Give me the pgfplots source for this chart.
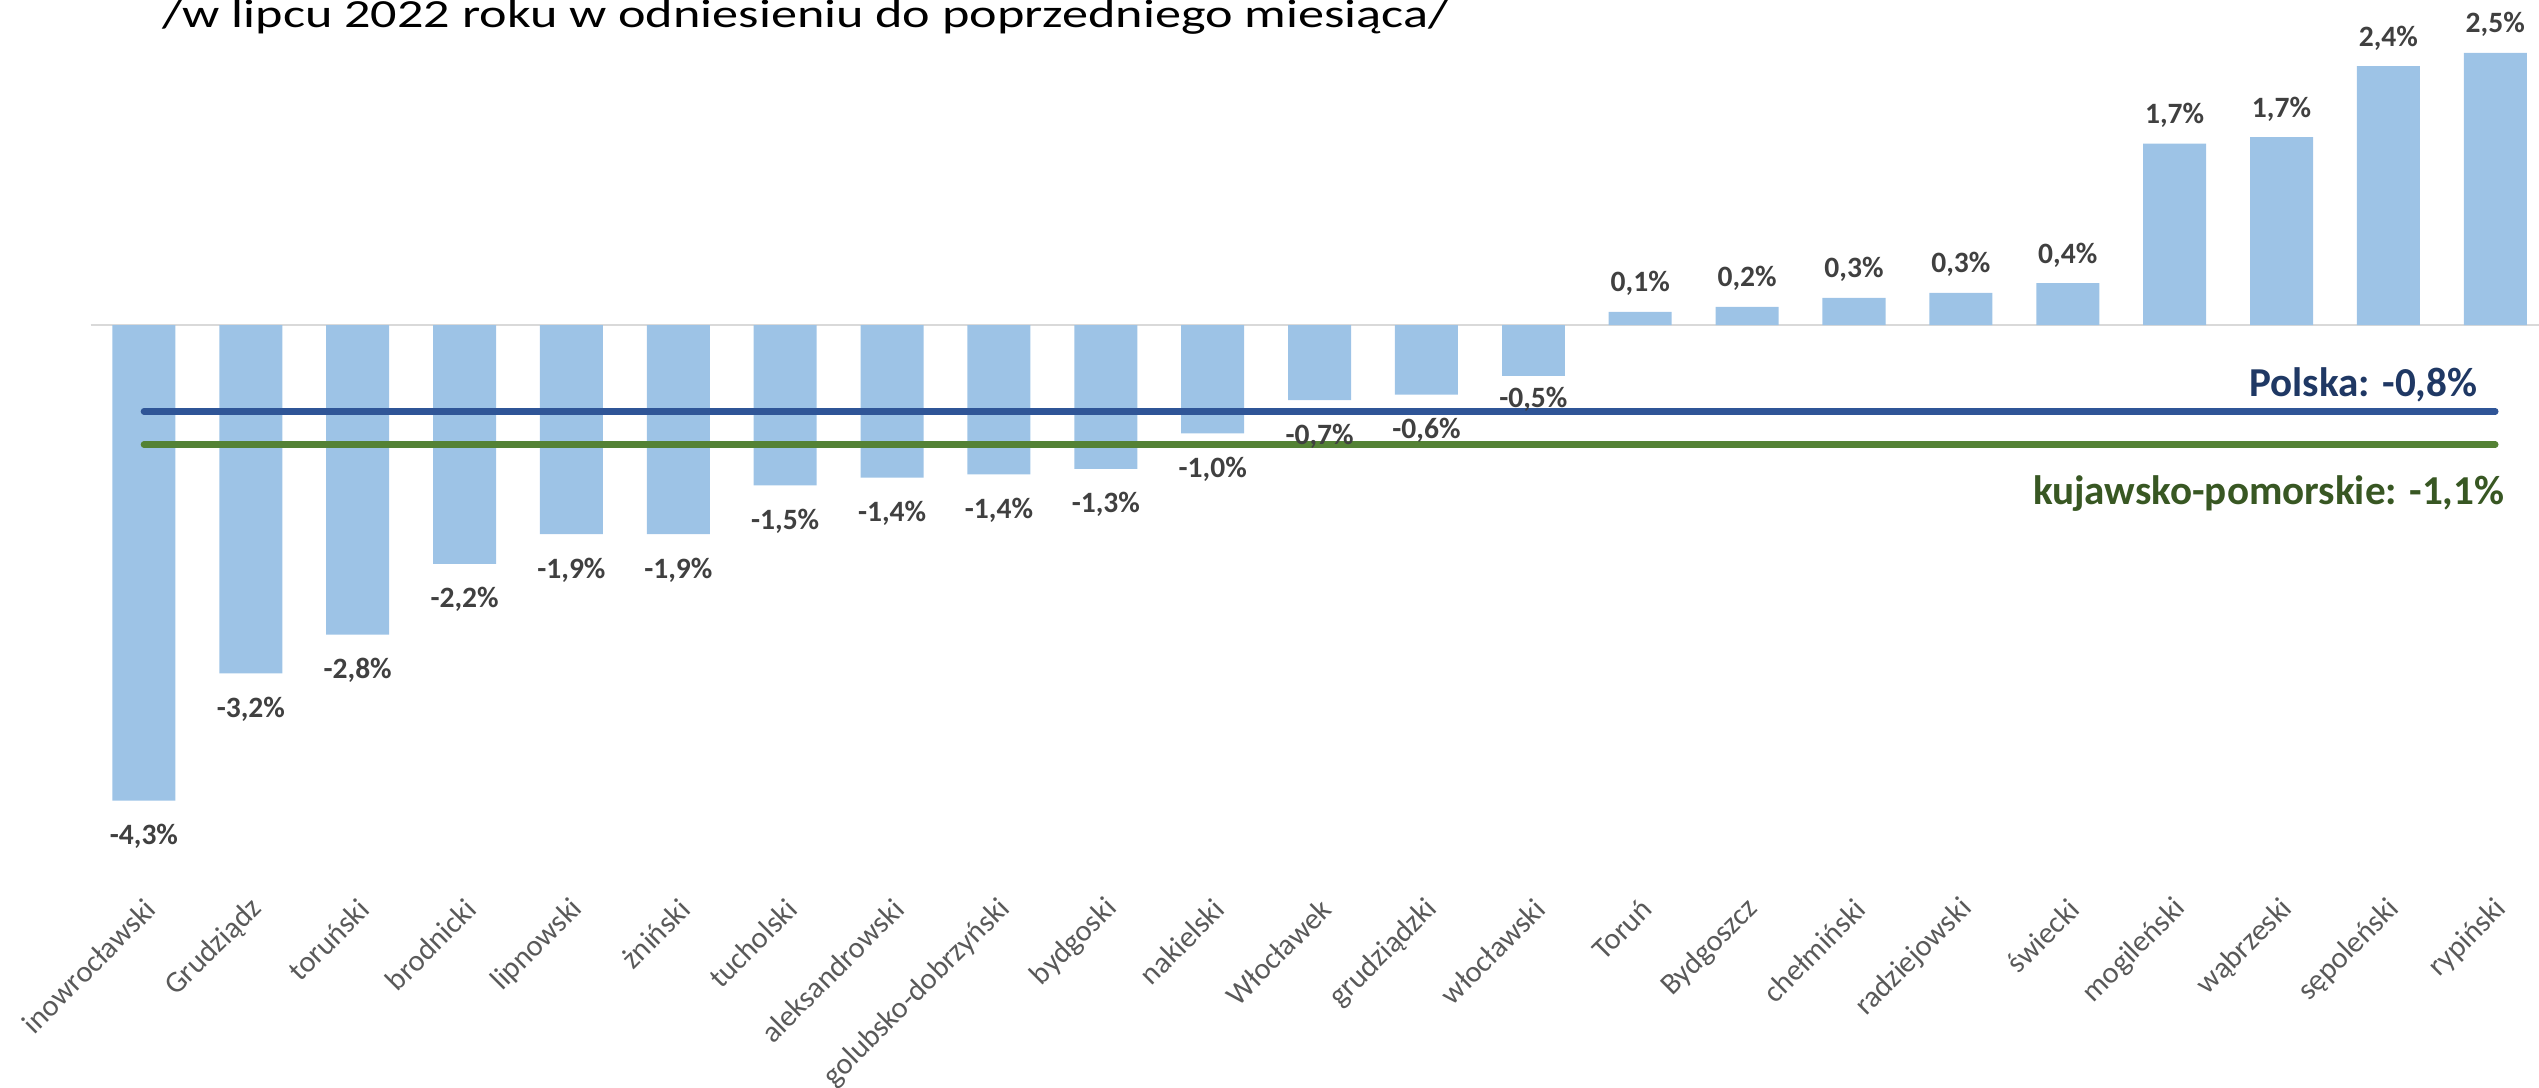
\documentclass[border=0pt]{standalone}
\usepackage{pgfplots}
\pgfplotsset{compat=1.18}
\usepackage{graphicx}
\usepackage{fontspec}
\setmainfont{Carlito}
\definecolor{barblue}{HTML}{9DC3E6}
\definecolor{plline}{HTML}{2F5597}
\definecolor{pltext}{HTML}{1F3864}
\definecolor{kpline}{HTML}{548235}
\definecolor{kptext}{HTML}{385723}
\definecolor{lab}{HTML}{404040}
\definecolor{tick}{HTML}{595959}
\definecolor{zero}{HTML}{D9D9D9}
\begin{document}
\begin{tikzpicture}
\path[use as bounding box] (0,0) rectangle (253.9mm,108.8mm);
\node[anchor=base west, inner sep=0pt] at (16.2mm,106.0mm)
  {\scalebox{1}[0.765]{\fontsize{14.85}{16}\selectfont /w lipcu 2022 roku w odniesieniu do poprzedniego miesiąca/}};
\begin{axis}[
  at={(9.05mm,21.0mm)}, anchor=south west,
  width=245.82mm, height=87.37mm, scale only axis,
  xmin=-0.5, xmax=22.5, ymin=-5, ymax=2.9,
  axis line style={draw=none},
  ytick=\empty,
  xtick={0,...,22},
  xtick style={draw=none},
  xticklabels={inowrocławski,Grudziądz,toruński,brodnicki,lipnowski,żniński,tucholski,aleksandrowski,golubsko-dobrzyński,bydgoski,nakielski,Włocławek,grudziądzki,włocławski,Toruń,Bydgoszcz,chełmiński,radziejowski,świecki,mogileński,wąbrzeski,sępoleński,rypiński},
  xticklabel style={xshift=0.7mm, yshift=-1.1mm, rotate=45, anchor=east, inner sep=0pt, text=tick, font=\fontsize{8.6}{10}\selectfont},
  clip=false,
  ybar, bar shift=0pt, bar width=6.3mm,
  point meta=explicit symbolic,
]
\addplot[draw=zero, line width=0.23mm, forget plot, sharp plot] coordinates {(-0.5,0) (22.5,0)};
\addplot[ybar, fill=barblue, draw=none, nodes near coords,
  every node near coord/.style={anchor=north, inner sep=0pt, yshift=-2.3mm, text=lab, font=\fontsize{8.4}{10}\selectfont\bfseries}]
coordinates {
(0,-4.30) [-4,3\%]
(1,-3.15) [-3,2\%]
(2,-2.80) [-2,8\%]
(3,-2.16) [-2,2\%]
(4,-1.89) [-1,9\%]
(5,-1.89) [-1,9\%]
(6,-1.45) [-1,5\%]
(7,-1.38) [-1,4\%]
(8,-1.35) [-1,4\%]
(9,-1.30) [-1,3\%]
(10,-0.98) [-1,0\%]
(11,-0.68) [-0,7\%]
(12,-0.63) [-0,6\%]
};
\addplot[ybar, fill=barblue, draw=none, nodes near coords,
  every node near coord/.style={anchor=north, inner sep=0pt, yshift=-1.1mm, text=lab, font=\fontsize{8.4}{10}\selectfont\bfseries}]
coordinates {
(13,-0.46) [-0,5\%]
};
\addplot[ybar, fill=barblue, draw=none, nodes near coords,
  every node near coord/.style={anchor=base, inner sep=0pt, yshift=2.0mm, text=lab, font=\fontsize{8.4}{10}\selectfont\bfseries}]
coordinates {
(14,0.12) [0,1\%]
(15,0.165) [0,2\%]
(16,0.245) [0,3\%]
(17,0.29) [0,3\%]
(18,0.38) [0,4\%]
(19,1.64) [1,7\%]
(20,1.70) [1,7\%]
(21,2.34) [2,4\%]
(22,2.46) [2,5\%]
};
\addplot[sharp plot, draw=plline, line width=0.65mm, line cap=round] coordinates {(0,-0.78) (22,-0.78)};
\addplot[sharp plot, draw=kpline, line width=0.65mm, line cap=round] coordinates {(0,-1.08) (22,-1.08)};
\end{axis}
\node[anchor=base east, inner sep=0pt, text=pltext, font=\fontsize{11.7}{14}\selectfont\bfseries] at (247.8mm,69.1mm) {Polska: -0,8\%};
\node[anchor=base east, inner sep=0pt, text=kptext, font=\fontsize{11.7}{14}\selectfont\bfseries] at (250.5mm,58.3mm) {kujawsko-pomorskie: -1,1\%};
\end{tikzpicture}
\end{document}
